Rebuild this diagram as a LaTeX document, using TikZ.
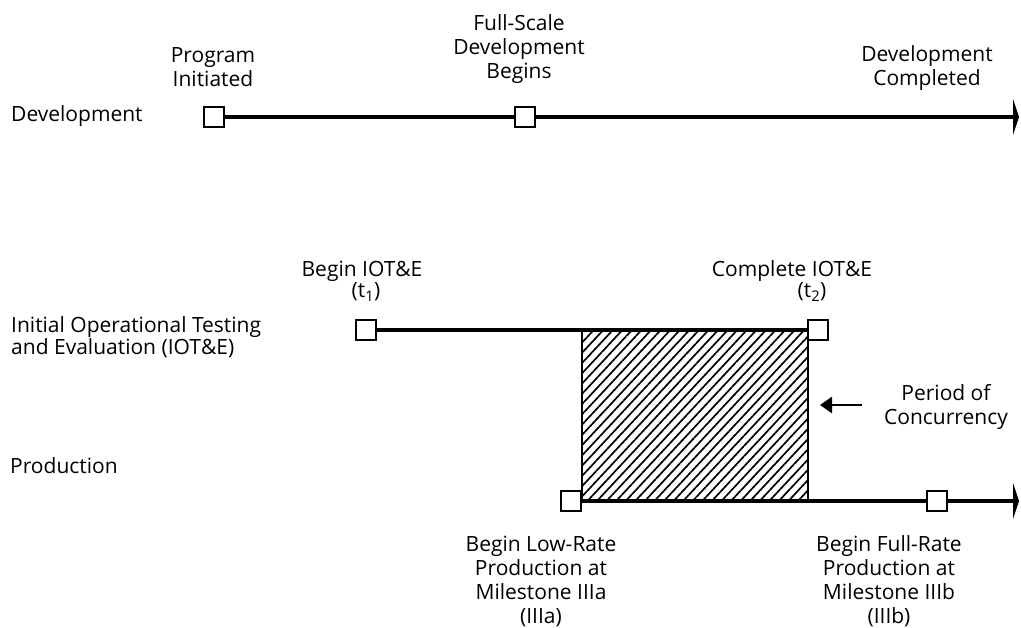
\documentclass[tikz,border=0pt]{standalone}
\usepackage{fontspec}
\setmainfont{Open Sans}
\usetikzlibrary{arrows.meta,patterns.meta}
\begin{document}
\begin{tikzpicture}[x=1pt,y=-1pt,
  every node/.style={font=\fontsize{21}{24}\selectfont, inner sep=0pt},
  ms/.style={draw, line width=2.2pt, fill=white, minimum size=20pt, inner sep=0pt},
  tl/.style={line width=4.5pt},
  endtip/.style={-{Triangle[length=6pt,width=36pt]}},
  lbl/.style={align=center},
  lft/.style={anchor=west, align=left}
]
\useasboundingbox (0,0) rectangle (1021,628);

% hatched period of concurrency
\coordinate (tlft) at (582,330);
\coordinate (brt) at (808,501);
\fill[pattern={Lines[angle=47,distance=7pt,line width=1.7pt]}] (tlft) rectangle (brt);
\draw[line width=2.4pt] (tlft) -- (tlft |- brt) (brt) -- (brt |- tlft);

% row labels
\node[lft] (ldev) at (11,116) {Development};
\node[lft, font=\fontsize{21}{16.5}\selectfont] (liot) at (11,337) {Initial Operational Testing\\and Evaluation (IOT\&E)};
\node[lft] (lprod) at (10,466) {Production};

% development timeline
\node[ms] (pi) at (214,117) {};
\node[ms] (fs) at (525,117) {};
\coordinate (devend) at (1019,117);
\draw[tl] (pi.east) -- (fs.west);
\draw[tl, endtip] (fs.east) -- (devend);
\node[lbl] (tpi) at (213,67) {Program\\Initiated};
\node[lbl] (tfs) at (519,49) {Full-Scale\\Development\\Begins};
\node[lbl] (tdc) at (927,68.5) {Development\\Completed};

% IOT&E timeline
\node[ms] (t1) at (366,330) {};
\node[ms] (t2) at (818,330) {};
\draw[tl] (t1.east) -- (t2.west);
\node (tb1) at (362,271) {Begin IOT\&E};
\node (tt1) at (366,292) {(t\textsubscript{1})};
\node (tb2) at (792,271) {Complete IOT\&E};
\node (tt2) at (812,292) {(t\textsubscript{2})};

% production timeline
\node[ms] (la) at (571,501) {};
\node[ms] (fr) at (937,501) {};
\coordinate (prodend) at (1019,501);
\draw[tl] (la.east) -- (fr.west);
\draw[tl, endtip] (fr.east) -- (prodend);
\node[lbl] (tla) at (541,581.5) {Begin Low-Rate\\Production at\\Milestone IIIa\\(IIIa)};
\node[lbl] (tfr) at (889,581.5) {Begin Full-Rate\\Production at\\Milestone IIIb\\(IIIb)};

% period of concurrency
\node[lbl] (tpc) at (946,407) {Period of\\Concurrency};
\coordinate (pcs) at (862,405);
\coordinate (pce) at (820,405);
\draw[line width=2.8pt, -{Triangle[length=12pt 0,width=16pt 0]}] (pcs) -- (pce);
\end{tikzpicture}
\end{document}
